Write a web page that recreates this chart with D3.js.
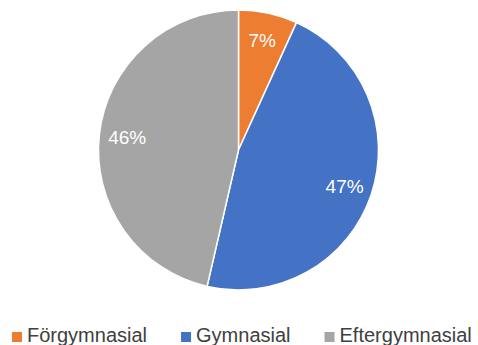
<!DOCTYPE html>
<html>
<head>
<meta charset="utf-8">
<script src="https://cdn.jsdelivr.net/npm/d3@7"></script>
<style>
  body { margin: 0; background: #fff; }
  text { font-family: "Liberation Sans", Arial, sans-serif; }
</style>
</head>
<body>
<svg id="chart" width="478" height="345"></svg>
<script>
var categories = ["Förgymnasial", "Gymnasial", "Eftergymnasial"],
    values = [6.8, 46.8, 46.4],
    labels = ["7%", "47%", "46%"],
    colors = ["#ED7D31", "#4472C4", "#A5A5A5"];

var svg = d3.select("#chart"),
    cx = 238.5, cy = 150, radius = 140;

var data = categories.map((c, i) => ({name: c, value: values[i], label: labels[i], color: colors[i]}));

var pie = d3.pie().sort(null).value(d => d.value),
    arc = d3.arc().innerRadius(0).outerRadius(radius),
    labelArc = d3.arc().innerRadius(radius * 0.8).outerRadius(radius * 0.8);

var g = svg.append("g").attr("transform", `translate(${cx},${cy})`);

var slices = g.selectAll("g.slice")
  .data(pie(data))
  .enter().append("g").attr("class", "slice");

slices.append("path")
  .attr("d", arc)
  .attr("fill", d => d.data.color)
  .attr("stroke", "#fff")
  .attr("stroke-width", 1.5);

slices.append("text")
  .attr("transform", d => `translate(${labelArc.centroid(d)})`)
  .attr("text-anchor", "middle")
  .attr("dy", "0.35em")
  .attr("fill", "#fff")
  .style("font-size", "19px")
  .text(d => d.data.label);

//
// legend along the bottom
var legend = svg.append("g").attr("transform", "translate(12,332)"),
    lx = 0;
data.forEach(function(d) {
  var item = legend.append("g").attr("transform", `translate(${lx},0)`);
  item.append("rect").attr("width", 10).attr("height", 10).attr("fill", d.color);
  var t = item.append("text")
    .attr("x", 15).attr("y", 10)
    .attr("fill", "#404040")
    .style("font-size", "20px")
    .text(d.name);
  lx += 15 + t.node().getComputedTextLength() + 34;
});
</script>
</body>
</html>
